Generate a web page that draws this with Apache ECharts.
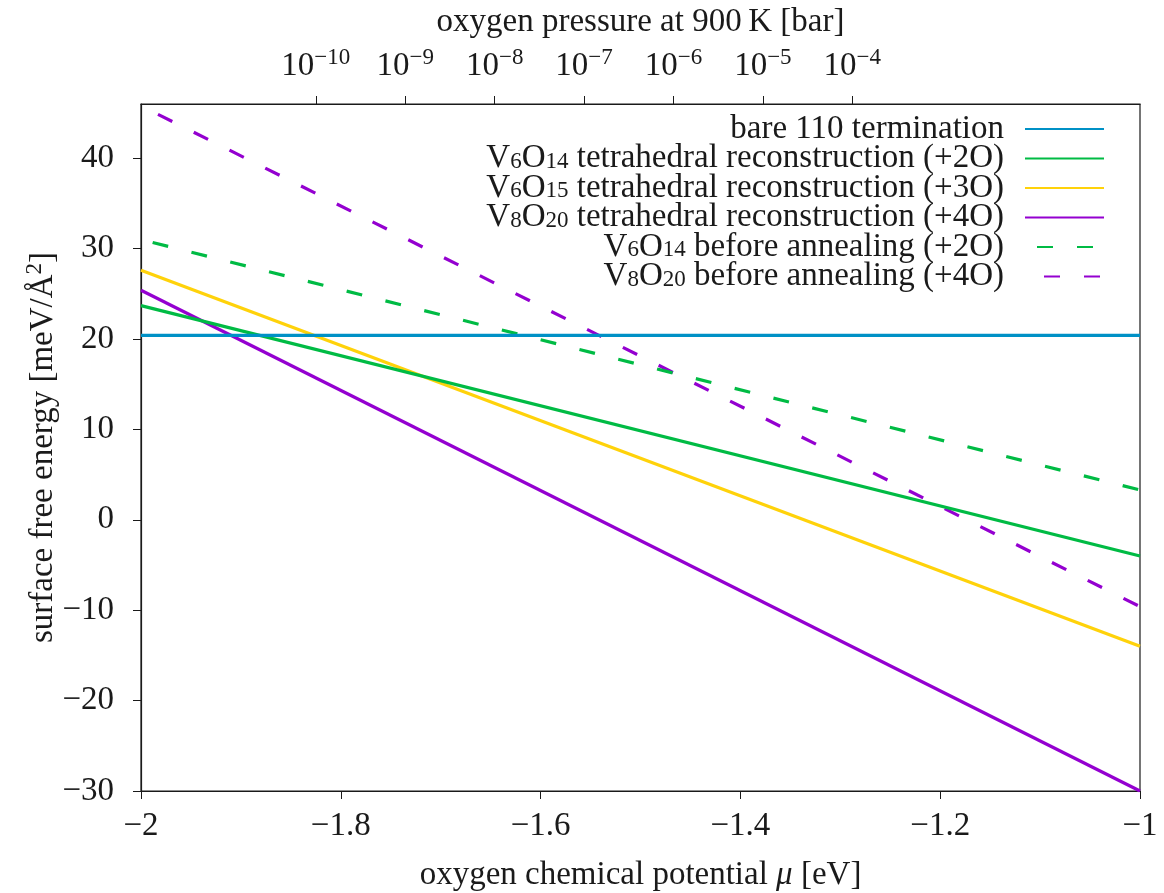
<!DOCTYPE html>
<html>
<head>
<meta charset="utf-8">
<script src="https://cdn.jsdelivr.net/npm/echarts@6/dist/echarts.min.js"></script>
<style>
html,body{margin:0;padding:0;background:#fff;}
#chart{width:1164px;height:893px;}
</style>
</head>
<body>
<div id="chart"></div>
<script>
// ---- data ----
const muEnds = [-2, -1];                       // oxygen chemical potential [eV]
const bare110 = [20.4, 20.4];
const v6o14Tet = [23.7, -4.0];
const v6o15Tet = [27.6, -14.0];
const v8o20Tet = [25.4, -30.0];
const v6o14Before = [31.0, 3.3];
const v8o20Before = [45.8, -9.6];

const seriesNames = [
  'bare 110 termination',
  'V6O14 tetrahedral reconstruction (+2O)',
  'V6O15 tetrahedral reconstruction (+3O)',
  'V8O20 tetrahedral reconstruction (+4O)',
  'V6O14 before annealing (+2O)',
  'V8O20 before annealing (+4O)'
];
const legendLabels = [
  '{n|bare 110 termination}',
  '{n|V}{sub|6}{n|O}{sub|14}{n| tetrahedral reconstruction (+2O)}',
  '{n|V}{sub|6}{n|O}{sub|15}{n| tetrahedral reconstruction (+3O)}',
  '{n|V}{sub|8}{n|O}{sub|20}{n| tetrahedral reconstruction (+4O)}',
  '{n|V}{sub|6}{n|O}{sub|14}{n| before annealing (+2O)}',
  '{n|V}{sub|8}{n|O}{sub|20}{n| before annealing (+4O)}'
];
const xTicks = [-2, -1.8, -1.6, -1.4, -1.2, -1];
const yTicks = [-30, -20, -10, 0, 10, 20, 30, 40];
// top axis: oxygen pressure at 900 K, tick positions in mu
const pressureTickMu = [-1.825, -1.7355, -1.646, -1.5565, -1.467, -1.3775, -1.288];
const pressureTickExp = ['−10', '−9', '−8', '−7', '−6', '−5', '−4'];

const FONT = 'Liberation Serif';
const FS = 33;
const FSS = 23;
const TXT = '#1a1a1a';

function pairs(vals) { return muEnds.map((m, i) => [m, vals[i]]); }
function minus(v) { return String(v).replace('-', '−'); }

const colors = ['#0091c6', '#00bb44', '#ffd20a', '#9400d0', '#00bb44', '#9400d0'];
const dataSets = [bare110, v6o14Tet, v6o15Tet, v8o20Tet, v6o14Before, v8o20Before];
const dashed = [false, false, false, false, true, true];
const dashOff = [0, 0, 0, 0, 28, 21];

const series = dataSets.map((d, i) => ({
  name: seriesNames[i],
  type: 'line',
  data: pairs(d),
  symbol: 'none',
  silent: true,
  animation: false,
  lineStyle: {
    color: colors[i],
    width: 3.2,
    type: dashed[i] ? [16, 24] : 'solid',
    dashOffset: dashOff[i]
  },
  itemStyle: { color: colors[i] },
  z: 10 - i
}));

const chart = echarts.init(document.getElementById('chart'), null, { renderer: 'canvas' });
chart.setOption({
  animation: false,
  backgroundColor: '#fff',
  textStyle: { fontFamily: FONT, color: TXT },
  grid: {
    left: 141, right: 24, top: 104, bottom: 102, show: true,
    borderColor: '#1a1a1a', borderWidth: 1.2, containLabel: false, outerBoundsMode: 'none'
  },
  legend: {
    orient: 'vertical',
    right: 59,
    top: 112.5,
    padding: 0,
    align: 'right',
    itemWidth: 79,
    itemHeight: 2,
    itemGap: -3.5,
    selectedMode: false,
    itemStyle: { opacity: 0 },
    data: seriesNames,
    formatter: name => legendLabels[seriesNames.indexOf(name)],
    textStyle: {
      fontFamily: FONT, fontSize: FS, color: TXT, lineHeight: 29.4,
      padding: [0, 16, 0, 0],
      rich: {
        n: { fontFamily: FONT, fontSize: FS, color: TXT, lineHeight: 29.4 },
        sub: { fontFamily: FONT, fontSize: FSS, color: TXT, lineHeight: 11, verticalAlign: 'bottom' }
      }
    }
  },
  xAxis: [
    {
      type: 'value', min: -2, max: -1, interval: 0.2, position: 'bottom',
      axisLine: { show: true, onZero: false, lineStyle: { color: '#1a1a1a', width: 1.2 } },
      axisTick: { show: true, inside: false, length: 8, customValues: xTicks, lineStyle: { color: '#1a1a1a' } },
      axisLabel: { customValues: xTicks, margin: 19, fontFamily: FONT, fontSize: FS, color: TXT, formatter: v => minus(v) },
      splitLine: { show: false },
      name: 'oxygen chemical potential {it|μ} [eV]',
      nameLocation: 'middle', nameGap: 68, nameMoveOverlap: false,
      nameTextStyle: { fontFamily: FONT, fontSize: FS, color: TXT, rich: { it: { fontFamily: FONT, fontSize: FS, fontStyle: 'italic', color: TXT } } }
    },
    {
      type: 'value', min: -2, max: -1, position: 'top',
      axisLine: { show: true, onZero: false, lineStyle: { color: '#1a1a1a', width: 1.2 } },
      axisTick: { show: true, inside: false, length: 8, customValues: pressureTickMu, lineStyle: { color: '#1a1a1a' } },
      axisLabel: {
        customValues: pressureTickMu, margin: 18, fontFamily: FONT, fontSize: FS, color: TXT,
        formatter: v => {
          let idx = 0, best = 1e9;
          pressureTickMu.forEach((m, i) => { const d = Math.abs(m - v); if (d < best) { best = d; idx = i; } });
          return '{base|10}{sup|' + pressureTickExp[idx] + '}';
        },
        rich: {
          base: { fontFamily: FONT, fontSize: FS, color: TXT, lineHeight: 40 },
          sup: { fontFamily: FONT, fontSize: FSS, color: TXT, lineHeight: 22, verticalAlign: 'top' }
        }
      },
      splitLine: { show: false },
      name: 'oxygen pressure at 900\u2009K [bar]',
      nameLocation: 'middle', nameGap: 65, nameMoveOverlap: false,
      nameTextStyle: { fontFamily: FONT, fontSize: FS, color: TXT }
    }
  ],
  yAxis: {
    type: 'value', min: -30, max: 46, interval: 10,
    axisLine: { show: true, onZero: false, lineStyle: { color: '#1a1a1a', width: 1.2 } },
    axisTick: { show: true, inside: false, length: 8, customValues: yTicks, lineStyle: { color: '#1a1a1a' } },
    axisLabel: { customValues: yTicks, margin: 27, fontFamily: FONT, fontSize: FS, color: TXT, formatter: v => minus(v) },
    splitLine: { show: false },
    name: 'surface free energy [meV/Å{sup|2}]',
    nameLocation: 'middle', nameGap: 78, nameRotate: 90, nameMoveOverlap: false,
    nameTextStyle: {
      fontFamily: FONT, fontSize: FS, color: TXT, lineHeight: 40,
      rich: { sup: { fontFamily: FONT, fontSize: FSS, color: TXT, lineHeight: 22, verticalAlign: 'top' } }
    }
  },
  series: series
});
</script>
</body>
</html>
